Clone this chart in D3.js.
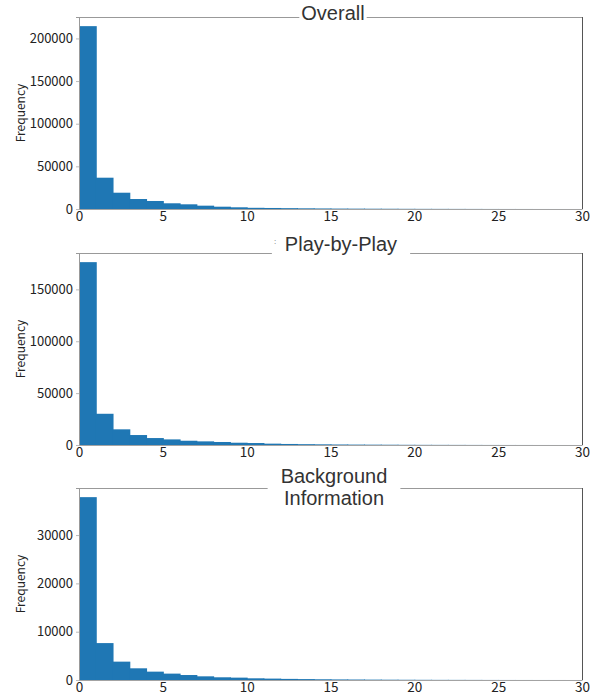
<!DOCTYPE html>
<html>
<head>
<meta charset="utf-8">
<script src="https://cdn.jsdelivr.net/npm/d3@7"></script>
<style>
  body { margin: 0; background: #fff; }
</style>
</head>
<body>
<div id="chart"></div>
<script>
// bin starts (width 1) and counts per panel
const binStarts = [0, 1, 2, 3, 4, 5, 6, 7, 8, 9, 10, 11, 12, 13, 14, 15, 16, 17, 18, 19, 20, 21, 22, 23, 24, 25, 26, 27, 28, 29];
const overallCounts = [214400, 36700, 19100, 11700, 9400, 6700, 5500, 3900, 2700, 2000, 1400, 1200, 1000, 800, 650, 500, 420, 350, 300, 230, 180, 150, 120, 90, 60, 40, 30, 20, 15, 10];
const playCounts = [176250, 30100, 15100, 9600, 6700, 5400, 4100, 3500, 2900, 2200, 1900, 1300, 1000, 800, 650, 500, 400, 330, 270, 200, 160, 130, 100, 75, 50, 35, 25, 15, 10, 8];
const backgroundCounts = [37850, 7640, 3800, 2420, 1730, 1320, 1030, 760, 560, 490, 350, 290, 230, 190, 150, 120, 100, 80, 65, 50, 40, 30, 25, 20, 12, 8, 6, 4, 3, 2];
const xTicks = [0, 5, 10, 15, 20, 25, 30];
const overallTicks = [0, 50000, 100000, 150000, 200000];
const playTicks = [0, 50000, 100000, 150000];
const backgroundTicks = [0, 10000, 20000, 30000];
const titles = [["Overall"], ["Play-by-Play"], ["Background", "Information"]];

function init() {
    const w = 594, h = 697;
    const left = 79, right = 582;

    // layout of the three panels
    const panels = [
        { counts: overallCounts, ticks: overallTicks, title: titles[0], top: 17, bottom: 209, pad: 2, baseline: 20, cx: 333 },
        { counts: playCounts, ticks: playTicks, title: titles[1], top: 253, bottom: 445, pad: 13, baseline: 251, cx: 341 },
        { counts: backgroundCounts, ticks: backgroundTicks, title: titles[2], top: 488, bottom: 680, pad: 13, baseline: 483, cx: 334 }
    ];

    const svg = d3.select("#chart")
                .append("svg")
                .attr("width", w)
                .attr("height", h)
                .attr("viewBox", [0, 0, w, h]);

    const x = d3.scaleLinear().domain([0, 30]).range([left, right]);
    const tickFont = "'Noto Sans CJK JP', 'Noto Sans', sans-serif";

    panels.forEach(p => {
        const y = d3.scaleLinear()
                    .domain([0, d3.max(p.counts) * 1.05])
                    .range([p.bottom, p.top]);

        const g = svg.append("g");

        // frame: top and right
        g.append("line")
            .attr("x1", left).attr("x2", right)
            .attr("y1", p.top + 0.5).attr("y2", p.top + 0.5)
            .attr("stroke", "#999");
        g.append("line")
            .attr("x1", right + 0.5).attr("x2", right + 0.5)
            .attr("y1", p.top).attr("y2", p.bottom)
            .attr("stroke", "#555");

        // bars (slightly overlapping so no seams show)
        g.append("g")
            .selectAll("rect")
            .data(binStarts)
            .join("rect")
            .attr("x", d => x(d))
            .attr("width", d => x(d + 1) - x(d) + 1)
            .attr("y", (d, j) => y(p.counts[j]))
            .attr("height", (d, j) => p.bottom - y(p.counts[j]))
            .attr("fill", "#1f77b4");

        // bottom axis
        g.append("g")
            .attr("transform", `translate(0,${p.bottom})`)
            .call(d3.axisBottom(x).tickValues(xTicks).tickSize(0).tickPadding(2).tickFormat(d3.format("d")))
            .call(a => a.select(".domain").attr("stroke", "#333").attr("stroke-opacity", 0.45))
            .call(a => a.selectAll("text")
                .attr("font-family", tickFont)
                .attr("font-size", 13.5)
                .attr("fill", "#222"));

        // left axis
        g.append("g")
            .attr("transform", `translate(${left},0)`)
            .call(d3.axisLeft(y).tickValues(p.ticks).tickSize(3).tickPadding(3).tickFormat(d3.format("d")))
            .call(a => a.select(".domain").attr("stroke", "#999"))
            .call(a => a.selectAll("line").attr("stroke", "#bbb"))
            .call(a => a.selectAll("text")
                .attr("font-family", tickFont)
                .attr("font-size", 13)
                .attr("fill", "#222"));

        // y label
        g.append("text")
            .attr("transform", `translate(25,${(p.top + p.bottom) / 2}) rotate(-90)`)
            .attr("text-anchor", "middle")
            .attr("font-family", tickFont)
            .attr("font-size", 12)
            .attr("fill", "#222")
            .text("Frequency");

        // title with white box over the top frame
        const box = g.append("rect").attr("fill", "#fff");
        const t = g.append("text")
            .attr("text-anchor", "middle")
            .attr("font-family", "'Liberation Sans', Arial, sans-serif")
            .attr("font-size", 20)
            .attr("fill", "#333");
        p.title.forEach((line, k) => {
            t.append("tspan")
                .attr("x", p.cx)
                .attr("y", p.baseline + k * 22)
                .text(line);
        });
        const bb = t.node().getBBox();
        box.attr("x", bb.x - p.pad)
            .attr("width", bb.width + 2 * p.pad)
            .attr("y", bb.y)
            .attr("height", bb.height);
    });

    // small stray mark left of the middle title
    svg.append("text")
        .attr("x", 275)
        .attr("y", 244)
        .attr("text-anchor", "middle")
        .attr("font-family", "'Liberation Sans', Arial, sans-serif")
        .attr("font-size", 8)
        .attr("fill", "#666")
        .text(":");
}

window.onload = init;
</script>
</body>
</html>
